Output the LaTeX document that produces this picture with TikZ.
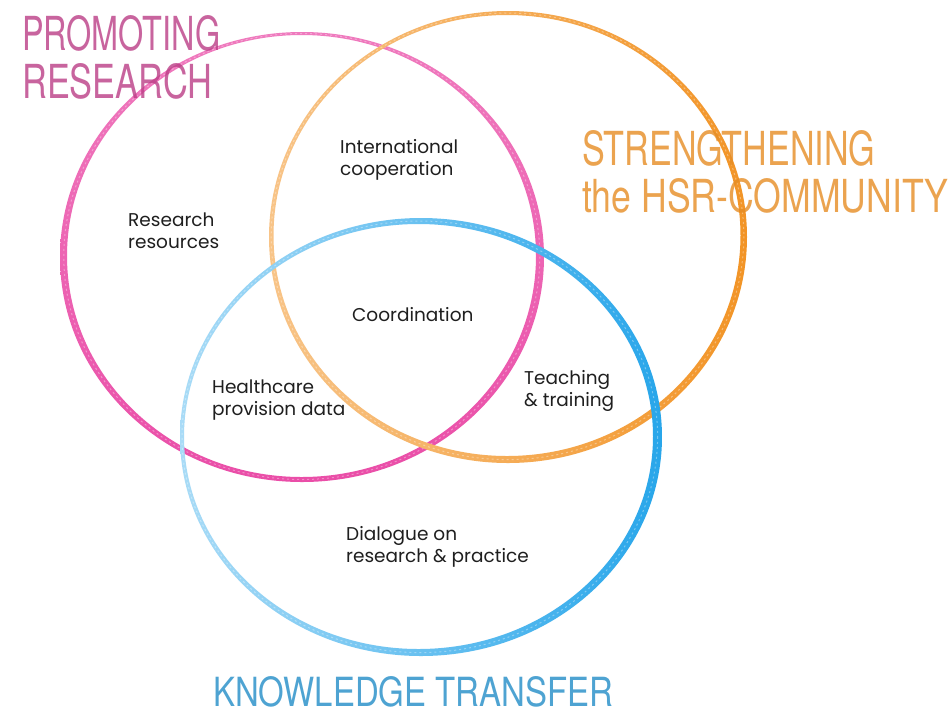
\documentclass[tikz,border=0pt]{standalone}
\usepackage{fontspec}
\setmainfont{Poppins}
\newfontfamily\handfont{TeX Gyre Heros}
\usetikzlibrary{positioning}
\colorlet{background}{white}
\definecolor{penPink}{RGB}{234,78,168}
\definecolor{penOrange}{RGB}{242,148,38}
\definecolor{penBlue}{RGB}{40,166,234}
\tikzset{
  areatext/.style={align=left, inner sep=0pt, anchor=base west, text=black!88,
    font=\fontsize{18.5}{22}\selectfont},
  heading/.style={inner sep=0pt, anchor=north west, font=\handfont, text opacity=.8},
  grain/.style={white, opacity=.35, line width=1pt, dash pattern=on 2pt off 3pt},
}

\begin{document}
\begin{tikzpicture}[x=1pt,y=-1pt]
  \useasboundingbox[fill=background] (0,0) rectangle (951,716);
  % crayon rings
  \shade[even odd rule, top color=penPink!75, bottom color=penPink]
    (302,257) ellipse [x radius=242, y radius=225]
    (301.5,256) ellipse [x radius=234.5, y radius=221];
  \draw[grain] (301.8,256.5) ellipse [x radius=238, y radius=223];
  \shade[even odd rule, left color=penOrange!55, right color=penOrange]
    (508,237) ellipse [x radius=239, y radius=226]
    (507,235.5) ellipse [x radius=233.5, y radius=220.5];
  \draw[grain] (507.5,236.3) ellipse [x radius=236.3, y radius=223.3];
  \shade[even odd rule, left color=penBlue!40, right color=penBlue]
    (421,437) ellipse [x radius=241, y radius=219]
    (418.5,436.5) ellipse [x radius=234.5, y radius=212.5];
  \draw[grain] (419.8,436.8) ellipse [x radius=237.8, y radius=215.8];

  % headings
  \node[heading, text=penPink!80!black] (promoting) at (22,15) {\resizebox{198pt}{35pt}{PROMOTING}};
  \node[heading, text=penPink!80!black] (research) at (22,63) {\resizebox{190pt}{35pt}{RESEARCH}};
  \node[heading, text=penOrange!95!black] (strength) at (582,130) {\resizebox{293pt}{35pt}{STRENGTHENING}};
  \node[heading, text=penOrange!95!black] (community) at (582,178) {\resizebox{366pt}{34pt}{the HSR-COMMUNITY}};
  \node[heading, text=penBlue!85!black] (transfer) at (213,676) {\resizebox{400pt}{30pt}{KNOWLEDGE TRANSFER}};

  % areas
  \node[areatext] (coop) at (340,175) {International\\cooperation};
  \node[areatext] (resources) at (128,248) {Research\\resources};
  \node[areatext] (coord) at (352,321) {Coordination};
  \node[areatext] (health) at (212,415) {Healthcare\\provision data};
  \node[areatext] (teach) at (524,406) {Teaching\\\& training};
  \node[areatext] (dialogue) at (346,562) {Dialogue on\\research \& practice};
\end{tikzpicture}
\end{document}
